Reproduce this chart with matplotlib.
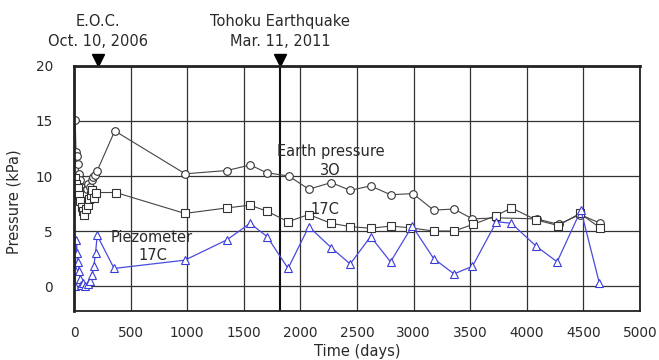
import numpy as np
import matplotlib.pyplot as plt

plt.rcParams['font.family'] = ['DejaVu Sans']

# earth pressure, cell 3O (days, kPa)
ep3o_days = [10, 18, 26, 34, 42, 52, 62, 74, 86, 98, 112, 126, 140, 155, 170, 185, 206, 360,
             982, 1351, 1557, 1702, 1897, 2074, 2271, 2440, 2620, 2796, 2994, 3177,
             3357, 3520, 3730, 4090, 4280, 4470, 4650]
ep3o_vals = [15.1, 12.2, 11.8, 11.1, 10.2, 9.6, 9.0, 8.6, 8.2, 8.4, 8.8, 9.3, 9.0, 9.6, 9.9, 10.1, 10.5, 14.1,
             10.2, 10.5, 11.0, 10.3, 10.0, 8.8, 9.4, 8.7, 9.1, 8.3, 8.4, 6.9,
             7.0, 6.1, 6.2, 6.1, 5.6, 6.5, 5.7]

# earth pressure, cell 17C
ep17_days = [12, 22, 32, 44, 56, 68, 80, 92, 106, 120, 134, 148, 162, 176, 192, 369,
             979, 1351, 1555, 1705, 1891, 2074, 2271, 2440, 2620, 2796, 2965, 3177,
             3357, 3525, 3730, 3864, 4085, 4277, 4469, 4646]
ep17_vals = [9.8, 9.3, 8.9, 8.3, 7.7, 7.2, 6.8, 6.5, 7.0, 7.4, 7.9, 8.3, 8.7, 8.0, 8.5, 8.5,
             6.6, 7.1, 7.35, 6.8, 5.85, 6.5, 5.7, 5.4, 5.25, 5.45, 5.3, 5.0,
             5.0, 5.6, 6.4, 7.1, 6.0, 5.5, 6.6, 5.3]

# piezometer 17C
pz_days = [5, 12, 20, 28, 36, 45, 55, 65, 80, 100, 120, 140, 160, 175, 190, 205, 354,
           979, 1351, 1555, 1705, 1891, 2074, 2271, 2440, 2620, 2796, 2988, 3177,
           3357, 3520, 3732, 3864, 4085, 4268, 4478, 4640]
pz_vals = [0.0, 1.5, 4.2, 3.0, 2.2, 1.4, 0.6, 0.1, 0.3, 0.0, 0.2, 0.5, 1.0, 1.8, 3.0, 4.6, 1.6,
           2.35, 4.2, 5.7, 4.5, 1.6, 5.4, 3.5, 2.0, 4.5, 2.2, 5.45, 2.5,
           1.1, 1.8, 5.85, 5.7, 3.6, 2.2, 6.9, 0.3]

eoc_day = 210
quake_day = 1823

txt = '#2a2a2a'
fs = 10.5

fig = plt.figure(figsize=(6.59, 3.60), dpi=100)
ax = fig.add_axes([0.1123, 0.1361, 0.8589, 0.6806])

ax.set_xlim(0, 5000)
ax.set_ylim(-2.27, 20)
ax.set_xticks(np.arange(0, 5001, 500))
ax.set_yticks([0, 5, 10, 15, 20])
ax.grid(True, color='#333333', linewidth=0.9)
ax.tick_params(length=0, labelsize=9.8, colors=txt)
ax.tick_params(axis='y', pad=15)
ax.tick_params(axis='x', pad=11)
for side in ['top', 'left']:
    ax.spines[side].set_linewidth(2.0)
for side in ['right', 'bottom']:
    ax.spines[side].set_linewidth(1.3)
for sp in ax.spines.values():
    sp.set_color('#222222')

ax.axvline(quake_day, color='#111111', linewidth=1.5)

ax.plot(ep3o_days, ep3o_vals, '-o', color='#444444', linewidth=0.8,
        markersize=5.5, markerfacecolor='white', markeredgecolor='#333333', markeredgewidth=0.8)
ax.plot(ep17_days, ep17_vals, '-s', color='#444444', linewidth=0.8,
        markersize=5.5, markerfacecolor='white', markeredgecolor='#333333', markeredgewidth=0.8)
ax.plot(pz_days, pz_vals, '-^', color='#4a4ae0', linewidth=0.9,
        markersize=6, markerfacecolor='white', markeredgecolor='#3a3ad8', markeredgewidth=0.8)

# event markers above the frame
tr = ax.get_xaxis_transform()
for d, l1, l2 in [(eoc_day, 'E.O.C.', 'Oct. 10, 2006'),
                  (quake_day, 'Tohoku Earthquake', 'Mar. 11, 2011')]:
    ax.plot([d], [1.025], marker='v', color='black', markersize=8, transform=tr, clip_on=False)
    ax.text(d, 1.18, l1, transform=tr, ha='center', va='center', fontsize=fs, color=txt)
    ax.text(d, 1.098, l2, transform=tr, ha='center', va='center', fontsize=fs, color=txt)

ax.text(2270, 12.2, 'Earth pressure', ha='center', va='center', fontsize=fs, color=txt)
ax.text(2260, 10.5, '3O', ha='center', va='center', fontsize=fs, color=txt)
ax.text(2215, 7.0, '17C', ha='center', va='center', fontsize=fs, color=txt)
ax.text(690, 4.4, 'Piezometer', ha='center', va='center', fontsize=fs, color=txt)
ax.text(700, 2.8, '17C', ha='center', va='center', fontsize=fs, color=txt)

ax.set_xlabel('Time (days)', fontsize=fs, color=txt)
ax.set_ylabel('Pressure (kPa)', fontsize=fs, color=txt)
ax.xaxis.set_label_coords(0.5, -0.135)
ax.yaxis.set_label_coords(-0.092, 0.445)

fig.savefig('out.png', dpi=100)
